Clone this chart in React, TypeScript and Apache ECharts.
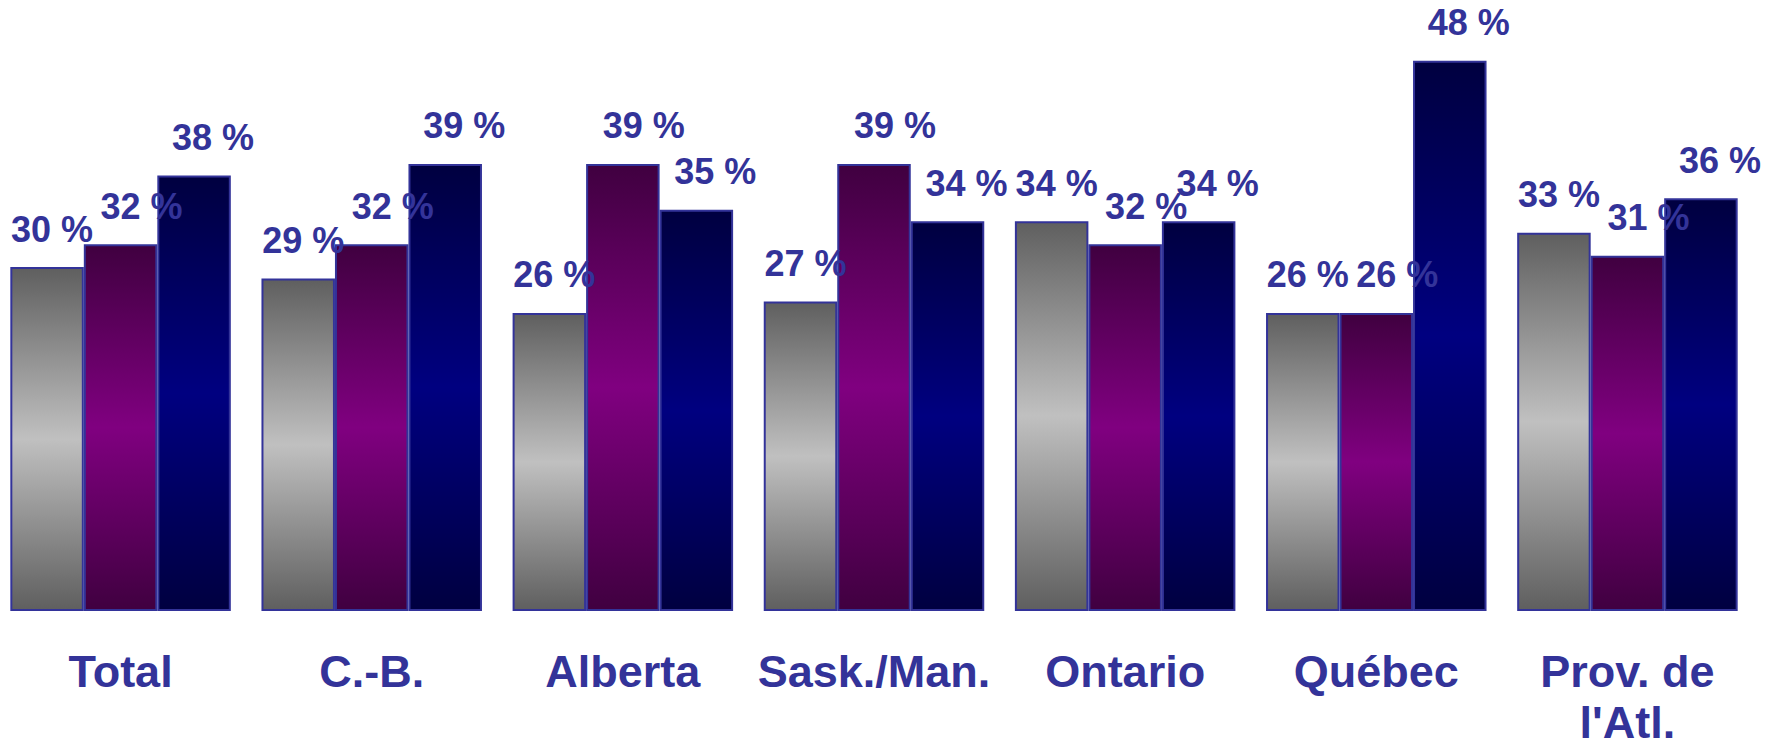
import React, { useEffect, useRef } from "react";
import * as echarts from "echarts";

const categories = ["Total", "C.-B.", "Alberta", "Sask./Man.", "Ontario", "Québec", "Prov. de\nl'Atl."];
const seriesA = [30, 29, 26, 27, 34, 26, 33];
const seriesB = [32, 32, 39, 39, 32, 26, 31];
const seriesC = [38, 39, 35, 34, 34, 48, 36];

const TEXT = "#333399";
const FONT = "'Liberation Sans', Arial, sans-serif";

function grad(edge: string, mid: string) {
  return new echarts.graphic.LinearGradient(0, 0, 0, 1, [
    { offset: 0, color: edge },
    { offset: 0.5, color: mid },
    { offset: 1, color: edge },
  ]);
}

function makeSeries(name: string, data: number[], edge: string, mid: string, dx: number) {
  return {
    name,
    type: "bar",
    data,
    barGap: "0%",
    barCategoryGap: "12.2%",
    itemStyle: { color: grad(edge, mid), borderColor: TEXT, borderWidth: 2 },
    label: {
      show: true,
      position: "top",
      distance: 20,
      offset: [dx, 0],
      formatter: "{c} %",
      color: TEXT,
      fontFamily: FONT,
      fontWeight: "bold",
      fontSize: 36,
    },
  };
}

export default function App() {
  const ref = useRef<HTMLDivElement>(null);
  useEffect(() => {
    const chart = echarts.init(ref.current!, null, { renderer: "svg" });
    chart.setOption({
      animation: false,
      grid: { left: 0, right: 30, top: 0, bottom: 136, containLabel: false, outerBoundsMode: "none" },
      xAxis: {
        type: "category",
        data: categories,
        axisLine: { show: false },
        axisTick: { show: false },
        axisLabel: {
          interval: 0,
          margin: 35,
          color: TEXT,
          fontFamily: FONT,
          fontWeight: "bold",
          fontSize: 45,
          lineHeight: 51,
        },
      },
      yAxis: { type: "value", min: 0, max: 53.3, show: false, splitLine: { show: false } },
      series: [
        makeSeries("A", seriesA, "#5f5f5f", "#c0c0c0", 5),
        makeSeries("B", seriesB, "#400040", "#800080", 21),
        makeSeries("C", seriesC, "#000040", "#000080", 19),
      ],
    });
    return () => chart.dispose();
  }, []);
  return (
    <div
      ref={ref}
      style={{ position: "fixed", left: -5, top: 0, width: 1788, height: 747, background: "#fff" }}
    />
  );
}
